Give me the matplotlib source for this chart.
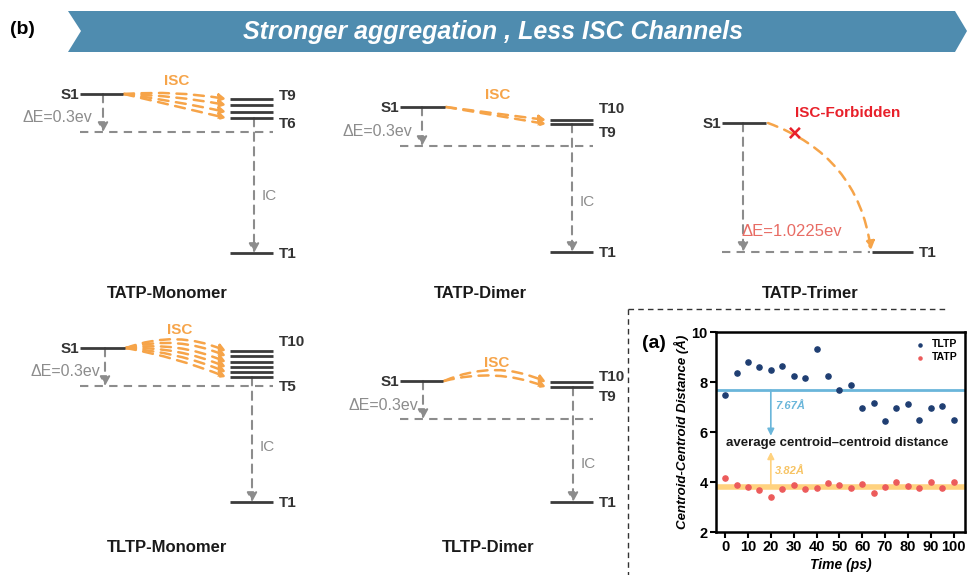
import matplotlib.pyplot as plt
from matplotlib.patches import Polygon, FancyArrowPatch

plt.rcParams['font.family'] = ['Liberation Sans', 'DejaVu Sans']

# scatter data of panel (a)
TIME_PS = [0, 5, 10, 15, 20, 25, 30, 35, 40, 45, 50,
           55, 60, 65, 70, 75, 80, 85, 90, 95, 100]
TLTP_DIST = [7.50, 8.36, 8.80, 8.61, 8.48, 8.63, 8.25, 8.15, 9.33, 8.25, 7.68,
             7.90, 6.96, 7.15, 6.45, 6.97, 7.13, 6.48, 6.97, 7.04, 6.50]
TATP_DIST = [4.17, 3.87, 3.80, 3.67, 3.41, 3.71, 3.89, 3.71, 3.77, 3.95, 3.89,
             3.76, 3.91, 3.56, 3.79, 4.01, 3.85, 3.75, 4.01, 3.75, 4.00]
TLTP_MEAN = 7.67
TATP_MEAN = 3.82

LEVEL = "#3b3b3b"
GRAY = "#8c8c8c"
ORANGE = "#f6a449"
DASH = (0, (4, 3))


def dashed_arrow(ax, p0, p1, color, rad=0.0, lw=1.5, hl=0.55, hw=0.3):
    arr = FancyArrowPatch(p0, p1, arrowstyle=f"-|>,head_length={hl},head_width={hw}",
                          connectionstyle=f"arc3,rad={rad}", color=color, lw=lw,
                          linestyle=DASH, shrinkA=0, shrinkB=0, mutation_scale=10)
    ax.add_patch(arr)


def level(ax, x0, x1, y):
    ax.plot([x0, x1], [y, y], color=LEVEL, lw=2, solid_capstyle="butt")


def draw_panel(ax, s1, t_x, t_levels, t_labels, base_y, t1_y, de_x, de_xy,
               ic_x, isc_xy, isc_rads, title_xy, title):
    sx0, sx1, sy = s1
    tx0, tx1 = t_x
    ax.plot([sx0, tx1], [base_y, base_y], color=GRAY, lw=1.5, ls=DASH)
    level(ax, sx0, sx1, sy)
    ax.text(sx0 - 1, sy + 1, "S1", ha="right", va="center", fontsize=11,
            fontweight="bold", color="#333333")
    for y in t_levels:
        level(ax, tx0, tx1, y)
    for lab, ly in t_labels:
        ax.text(tx1 + 6, ly, lab, ha="left", va="center", fontsize=11,
                fontweight="bold", color="#333333")
    level(ax, tx0, tx1, t1_y)
    ax.text(tx1 + 6, t1_y + 1, "T1", ha="left", va="center", fontsize=11,
            fontweight="bold", color="#333333")
    # delta E arrow
    dashed_arrow(ax, (de_x, sy), (de_x, base_y), GRAY)
    ax.text(de_xy[0], de_xy[1], "\u0394E=0.3ev", ha="right", va="center",
            fontsize=11.5, color=GRAY)
    # internal conversion
    dashed_arrow(ax, (ic_x, max(t_levels)), (ic_x, t1_y), GRAY)
    ax.text(ic_x + 8, (base_y + t1_y) / 2 + 3, "IC", ha="left", va="center",
            fontsize=11, color=GRAY)
    # ISC channels
    for y, rad in zip(t_levels, isc_rads):
        dashed_arrow(ax, (sx1 + 1, sy), (tx0 - 4, y), ORANGE, rad=rad, lw=1.8,
                     hl=0.4, hw=0.22)
    ax.text(isc_xy[0], isc_xy[1], "ISC", ha="center", va="center",
            fontsize=11, fontweight="bold", color=ORANGE)
    ax.text(title_xy[0], title_xy[1], title, ha="center", va="center",
            fontsize=12, fontweight="bold", color="#1a1a1a")


fig = plt.figure(figsize=(9.67, 5.75), dpi=100)
ax = fig.add_axes([0, 0, 1, 1])
ax.set_xlim(0, 967)
ax.set_ylim(575, 0)
ax.set_axis_off()

# banner
banner = Polygon([(68, 11), (955, 11), (967, 31), (955, 52), (68, 52), (81, 31)],
                 closed=True, facecolor="#4f8caf", edgecolor="none")
ax.add_patch(banner)
ax.text(493, 32, "Stronger aggregation , Less ISC Channels", ha="center",
        va="center", fontsize=18, fontweight="bold", fontstyle="italic", color="white")
ax.text(10, 30, "(b)", ha="left", va="center", fontsize=14, fontweight="bold")

draw_panel(ax, (80, 123, 94), (230, 273), [99, 105, 112, 118],
           [("T9", 96), ("T6", 124)], 132, 253, 103, (92, 117), 254,
           (177, 81), [-0.06, -0.04, -0.02, 0.0], (167, 293), "TATP-Monomer")
draw_panel(ax, (400, 445, 107), (550, 593), [120, 124],
           [("T10", 109), ("T9", 133)], 146, 252, 422, (412, 131), 572,
           (498, 95), [0.0, 0.0], (480, 293), "TATP-Dimer")
draw_panel(ax, (80, 125, 348), (230, 273), [351, 356, 362, 367, 372, 377],
           [("T10", 342), ("T5", 387)], 386, 502, 105, (100, 372), 252,
           (180, 330), [-0.2, -0.17, -0.14, -0.11, -0.08, -0.05], (167, 548),
           "TLTP-Monomer")
draw_panel(ax, (400, 443, 381), (550, 593), [382, 387],
           [("T10", 377), ("T9", 397)], 419, 502, 423, (418, 405), 573,
           (497, 363), [-0.22, -0.16], (488, 548), "TLTP-Dimer")

# TATP-Trimer
ax.plot([722, 870], [252, 252], color=GRAY, lw=1.5, ls=DASH)
level(ax, 722, 766, 123)
ax.text(721, 124, "S1", ha="right", va="center", fontsize=11, fontweight="bold", color="#333333")
level(ax, 872, 913, 252)
ax.text(919, 253, "T1", ha="left", va="center", fontsize=11, fontweight="bold", color="#333333")
dashed_arrow(ax, (743, 123), (743, 252), GRAY)
ax.text(742, 232, "\u0394E=1.0225ev", ha="left", va="center", fontsize=12, color="#e86c64")
dashed_arrow(ax, (768, 123), (871, 250), ORANGE, rad=-0.3, lw=1.8, hl=0.5, hw=0.28)
ax.text(795, 134, "\u00d7", ha="center", va="center", fontsize=17, fontweight="bold", color="#e8202a")
ax.text(795, 113, "ISC-Forbidden", ha="left", va="center", fontsize=11,
        fontweight="bold", color="#e8202a")
ax.text(810, 293, "TATP-Trimer", ha="center", va="center", fontsize=12,
        fontweight="bold", color="#1a1a1a")

# dashed frame around panel (a)
ax.plot([628, 628], [309, 575], color="#333333", lw=1, ls=(0, (4, 3)))
ax.plot([628, 945], [309, 309], color="#333333", lw=1, ls=(0, (4, 3)))
ax.text(654, 343, "(a)", ha="center", va="center", fontsize=14, fontweight="bold")

# panel (a) scatter
sc = fig.add_axes([716 / 967, 43 / 575, 249 / 967, 200 / 575])
sc.axhline(TLTP_MEAN, color="#6ab6da", lw=2, zorder=1)
sc.axhline(TATP_MEAN, color="#ffd27f", lw=4, zorder=1)
sc.scatter(TIME_PS, TLTP_DIST, s=14, color="#1f3e72", label="TLTP", zorder=3)
sc.scatter(TIME_PS, TATP_DIST, s=14, color="#ec5b5b", label="TATP", zorder=3)
sc.annotate("", xy=(20, 5.85), xytext=(20, TLTP_MEAN),
            arrowprops=dict(arrowstyle="-|>,head_length=0.4,head_width=0.2",
                            color="#6ab6da", lw=1.2, shrinkA=0, shrinkB=0))
sc.annotate("", xy=(20, 5.2), xytext=(20, TATP_MEAN),
            arrowprops=dict(arrowstyle="-|>,head_length=0.4,head_width=0.2",
                            color="#ffd27f", lw=1.2, shrinkA=0, shrinkB=0))
sc.text(22, 7.05, "7.67\u00c5", color="#6ab6da", fontsize=8, fontweight="bold",
        fontstyle="italic", va="center")
sc.text(22, 4.45, "3.82\u00c5", color="#f7c465", fontsize=8, fontweight="bold",
        fontstyle="italic", va="center")
sc.text(49, 5.55, "average centroid\u2013centroid distance", ha="center", va="center",
        fontsize=9.5, fontweight="bold", color="#1a1a1a")
sc.set_xlim(-4, 105)
sc.set_ylim(2, 10)
sc.set_xticks(range(0, 101, 10))
sc.set_yticks([2, 4, 6, 8, 10])
sc.tick_params(labelsize=10.5, width=1.5, length=4, pad=2)
for lab in sc.get_xticklabels() + sc.get_yticklabels():
    lab.set_fontweight("bold")
for sp in sc.spines.values():
    sp.set_linewidth(1.8)
sc.set_xlabel("Time (ps)", fontsize=10, fontweight="bold", fontstyle="italic", labelpad=3)
sc.set_ylabel("Centroid-Centroid Distance (\u00c5)", fontsize=9.5, fontweight="bold",
              fontstyle="italic", labelpad=2)
sc.legend(loc="upper right", frameon=False, prop=dict(size=7.5, weight="bold"),
          handletextpad=0.1, markerscale=0.6, borderaxespad=0.3, labelspacing=0.3)

fig.savefig("out.png", dpi=100)
